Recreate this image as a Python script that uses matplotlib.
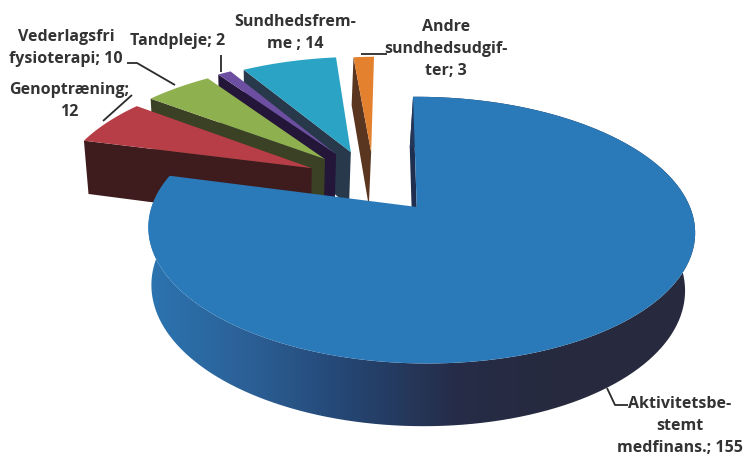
import matplotlib
matplotlib.use("Agg")
import matplotlib.pyplot as plt
import numpy as np
from matplotlib.colors import LinearSegmentedColormap
from matplotlib.patches import PathPatch, Polygon
from matplotlib.path import Path

labels = ["Aktivitetsbe-\nstemt\nmedfinans.; 155", "Genoptræning;\n12", "Vederlagsfri\nfysioterapi; 10",
          "Tandpleje; 2", "Sundhedsfrem-\nme ; 14", "Andre\nsundhedsudgif-\nter; 3"]
values = [155, 12, 10, 2, 14, 3]
top_colors = ["#2a7ab9", "#b73d47", "#8fb04f", "#6c4fa0", "#2aa3c5", "#e4812f"]
wall_colors = ["#1f2f50", "#3e1b1d", "#3b4125", "#241639", "#27394b", "#5a3620"]
# where each slice tip has been pulled to, in units of the pie radius
shift_x = [0.092, -0.317, -0.268, -0.225, -0.166, -0.084]
shift_y = [-0.118, 0.200, 0.279, 0.323, 0.341, 0.341]

label_pos = [(680, 426), (69, 101), (66, 48), (178, 41), (295, 33), (446, 49)]
leaders = [[(607, 388), (615, 405), (628, 405)], [(103, 121), (132, 95)],
           [(127, 63), (137, 63), (175, 85)], [(221, 55), (221, 72)], [(361, 54), (387, 54)]]

# projection of the tilted pie
X0, Y0 = 392, 192
BX, BY = 263, 124
G = 0.17
H = -0.015


def top_xy(x, y):
    p = 1 + G * y + H * x
    return X0 + BX * x / p, Y0 - BY * y / p


def base_xy(x, y):
    sx, sy = top_xy(x, y)
    return 275 + (sx - 275) * 0.976, sy + 56 - 6 * np.asarray(y)


fig = plt.figure(figsize=(7.47, 4.57), dpi=100)
ax = fig.add_axes([0, 0, 1, 1])
ax.axis("off")

shares = np.array(values) / sum(values) * 2 * np.pi
ends = np.cumsum(shares)
starts = ends - shares
wall_cmap = LinearSegmentedColormap.from_list("wall", ["#2c74b0", "#2b5f95", "#244470", "#262c48", "#272a3e"])

# back slices first, the big one on top
for i in [5, 4, 3, 2, 1, 0]:
    cx, cy = shift_x[i], shift_y[i]
    t = np.linspace(starts[i], ends[i], 160)
    ox = cx + np.sin(t)
    oy = cy + np.cos(t)

    # side wall along the first cut
    ex, ey = np.array([cx, ox[0]]), np.array([cy, oy[0]])
    sx, sy = top_xy(ex, ey)
    bx, by = base_xy(ex, ey)
    ax.add_patch(Polygon(np.c_[np.r_[sx, bx[::-1]], np.r_[sy, by[::-1]]], fc=wall_colors[i], ec="none", zorder=7 - i))

    if i == 0:
        # rim of the big slice, shaded left to right
        sx, sy = top_xy(ox, oy)
        bx, by = base_xy(ox, oy)
        quads = [Path([(sx[k], sy[k]), (sx[k + 1], sy[k + 1]), (bx[k + 1], by[k + 1]), (bx[k], by[k]), (sx[k], sy[k])])
                 for k in range(len(t) - 1)]
        rim = PathPatch(Path.make_compound_path(*quads), fc="none", ec="none")
        ax.add_patch(rim)
        for shade, ext in [(np.linspace(0, 1, 256).reshape(1, -1), [150, 560, 457, 0]),
                           (np.zeros((1, 2)), [100, 150, 457, 0]),
                           (np.ones((1, 2)), [560, 720, 457, 0])]:
            img = ax.imshow(shade, cmap=wall_cmap, vmin=0, vmax=1, extent=ext, aspect="auto", zorder=8)
            img.set_clip_path(rim)

    sx, sy = top_xy(np.r_[cx, ox], np.r_[cy, oy])
    ax.add_patch(Polygon(np.c_[sx, sy], fc=top_colors[i], ec="none", zorder=9 if i == 0 else 7.5 - i))

for pts in leaders:
    xs, ys = zip(*pts)
    ax.plot(xs, ys, color="#2a2a2a", lw=1.3, zorder=10, solid_capstyle="butt")

for lab, (lx, ly) in zip(labels, label_pos):
    ax.text(lx, ly, lab, ha="center", va="center", fontsize=11.5, fontweight="bold",
            family="Open Sans", color="#333333", linespacing=1.5, zorder=11)

ax.set_xlim(0, 747)
ax.set_ylim(457, 0)
fig.savefig("out.png", dpi=100)
